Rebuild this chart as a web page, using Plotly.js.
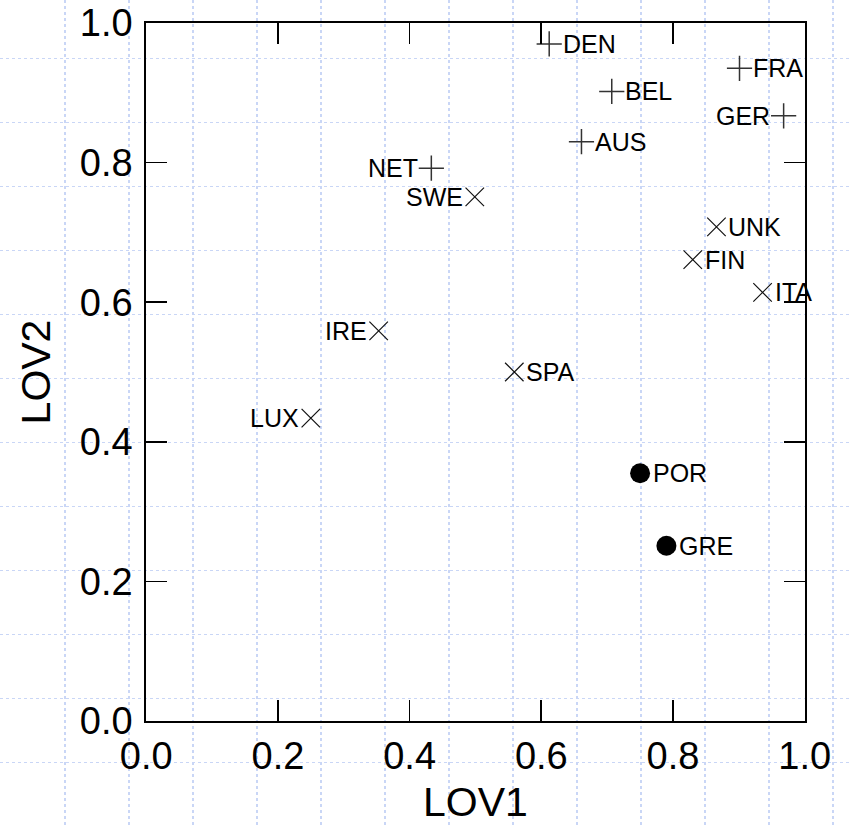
<!DOCTYPE html>
<html>
<head>
<meta charset="utf-8">
<script src="https://cdn.plot.ly/plotly-3.0.1.min.js"></script>
<style>html,body{margin:0;padding:0;background:#fff;}#chart{width:849px;height:825px;}</style>
</head>
<body>
<div id="chart"></div>
<script>
// Data
const countries = ['DEN','BEL','AUS','FRA','GER','NET','SWE','UNK','FIN','ITA','IRE','SPA','LUX','POR','GRE'];
const lov1 = [0.612,0.707,0.661,0.901,0.968,0.433,0.499,0.866,0.830,0.936,0.353,0.559,0.250,0.750,0.790];
const lov2 = [0.970,0.902,0.830,0.935,0.867,0.792,0.751,0.708,0.661,0.614,0.559,0.500,0.434,0.355,0.251];
const groups = ['A','A','A','A','A','A','B','B','B','B','B','B','B','C','C'];
const tickVals = [0.0,0.2,0.4,0.6,0.8,1.0];
const xTitle = 'LOV1';
const yTitle = 'LOV2';

const labelLeft = ['GER','NET','SWE','IRE','LUX'];
const FONT = 'Liberation Sans, Arial, Helvetica, sans-serif';

const groupStyle = {
  A: {symbol:'cross-thin', size:18, line:{color:'#333', width:1.5}, half:12.5},
  B: {symbol:'x-thin', size:18.5, line:{color:'#111', width:1.2}, half:11},
  C: {symbol:'circle', size:20, line:{color:'#000', width:0}, half:12}
};

const W = 849, H = 825;

// empty trace so the page-wide graph-paper subplot is created
const traces = [{type:'scatter', mode:'markers', x:[null], y:[null], xaxis:'x', yaxis:'y',
                 showlegend:false, hoverinfo:'skip'}];
['A','B','C'].forEach(g => {
  const idx = groups.map((v,i)=>v===g?i:-1).filter(i=>i>=0);
  const st = groupStyle[g];
  traces.push({
    type:'scatter', mode:'markers', xaxis:'x2', yaxis:'y2',
    x: idx.map(i=>lov1[i]), y: idx.map(i=>lov2[i]),
    text: idx.map(i=>countries[i]),
    marker:{symbol:st.symbol, size:st.size, color:'#000', line:st.line},
    hoverinfo:'text', showlegend:false, cliponaxis:false
  });
});

const annotations = countries.map((c,i) => {
  const left = labelLeft.includes(c);
  const half = groupStyle[groups[i]].half;
  return {
    xref:'x2', yref:'y2', x: lov1[i], y: lov2[i], text: c,
    showarrow:false, xanchor: left ? 'right' : 'left', yanchor:'middle',
    xshift: left ? -half+1 : half-1, yshift: 0,
    font:{family:FONT, size:25, color:'#000'}
  };
});

const plotL = 146.2, plotR = 804.7, plotT = 23, plotB = 721;

const layout = {
  width: W, height: H,
  margin:{l:0, r:0, t:0, b:0, pad:0},
  paper_bgcolor:'#fff', plot_bgcolor:'rgba(0,0,0,0)',
  font:{family:FONT, color:'#000'},
  showlegend:false,
  // graph-paper background grid spanning the whole page
  xaxis:{domain:[0,1], range:[0,W], tick0:1, dtick:64, showgrid:true, gridcolor:'#c9d6f6',
         griddash:'dot', gridwidth:1.5, zeroline:false, showline:false, showticklabels:false, ticks:'', fixedrange:true},
  yaxis:{domain:[0,1], range:[H,0], tick0:58.7, dtick:64, showgrid:true, gridcolor:'#c9d6f6',
         griddash:'dot', gridwidth:1.5, zeroline:false, showline:false, showticklabels:false, ticks:'', fixedrange:true},
  xaxis2:{domain:[plotL/W, plotR/W], anchor:'y2', range:[0,1], tickmode:'array', tickvals:tickVals, tickformat:'.1f',
          ticks:'inside', ticklen:21, tickwidth:1.6, tickcolor:'#000', showline:true, linewidth:2, linecolor:'#000',
          mirror:'ticks', showgrid:false, zeroline:false, ticklabelstandoff:0,
          tickfont:{family:FONT, size:38, color:'#000'},
          title:{text:xTitle, font:{family:FONT, size:41, color:'#000'}, standoff:12}},
  yaxis2:{domain:[1-plotB/H, 1-plotT/H], anchor:'x2', range:[0,1], tickmode:'array', tickvals:tickVals, tickformat:'.1f',
          ticks:'inside', ticklen:21, tickwidth:1.6, tickcolor:'#000', showline:true, linewidth:2, linecolor:'#000',
          mirror:'ticks', showgrid:false, zeroline:false, ticklabelstandoff:4,
          tickfont:{family:FONT, size:38, color:'#000'},
          title:{text:yTitle, font:{family:FONT, size:41, color:'#000'}, standoff:16}},
  annotations: annotations
};

Plotly.newPlot('chart', traces, layout, {displayModeBar:false, staticPlot:true});
</script>
</body>
</html>
